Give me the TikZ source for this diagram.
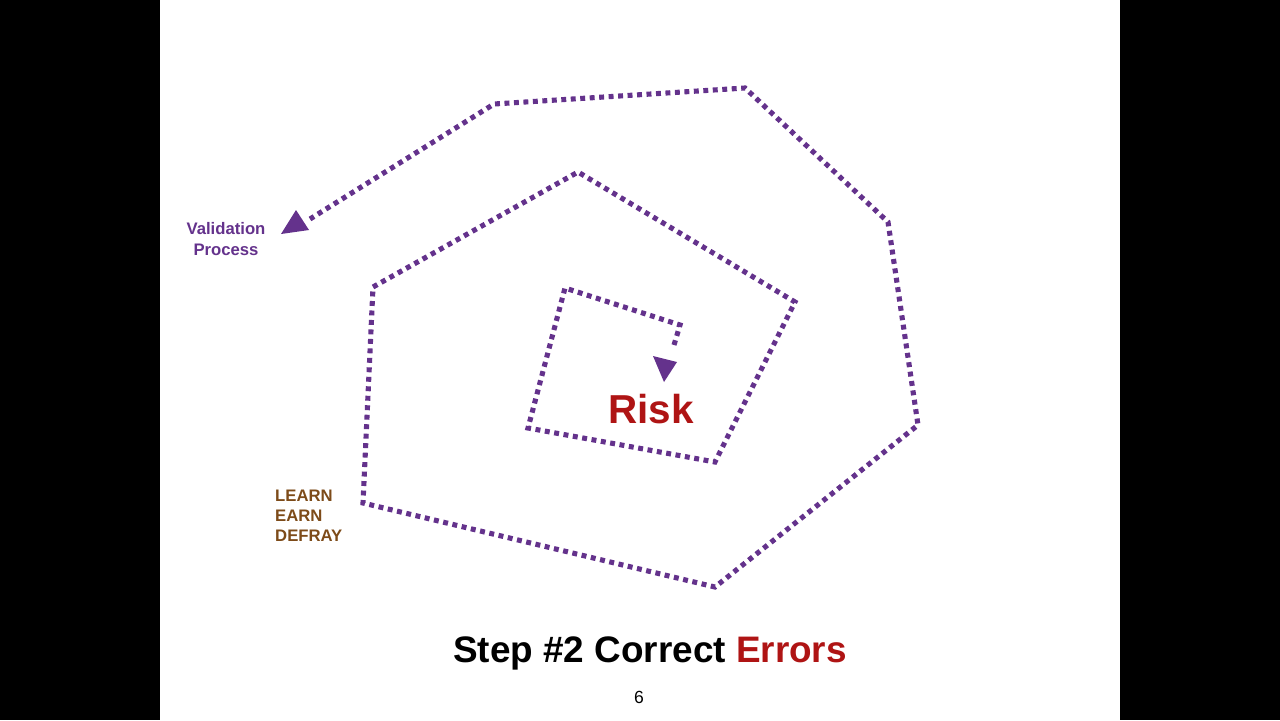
\documentclass[tikz,border=0pt]{standalone}
\usepackage{fontspec}
\setmainfont{Liberation Sans}
\usetikzlibrary{arrows.meta}
\definecolor{pur}{RGB}{100,50,140}
\definecolor{rsk}{RGB}{175,20,20}
\definecolor{brn}{RGB}{125,75,25}
\begin{document}
\begin{tikzpicture}[x=0.02cm,y=-0.02cm,
  sp/.style={pur,line width=2.9pt,dash pattern=on 2.8pt off 2.6pt},
  tip/.style={fill=pur,draw=none},
  lab/.style={font=\bfseries\fontsize{9.5}{11.5}\selectfont,align=center}]
\fill[black] (0,0) rectangle (1280,720);
\fill[white] (160,0) rectangle (1120,720);
\useasboundingbox (0,0) rectangle (1280,720);
\coordinate (a) at (674,345);
\coordinate (b) at (680,325);
\draw[sp] (a) -- (b) -- (565,288) -- (528,428) -- (715,462) -- (795,302) -- (578,172) -- (373,287) -- (363,503) -- (715,587) -- (918,425) -- (888,222) -- (745,88) -- (494,104) -- (310,219);
\coordinate (t1) at (664,382);
\fill[tip] (t1) -- (653,356) -- (677,362) -- cycle;
\coordinate (t2) at (281,234);
\fill[tip] (t2) -- (296,210) -- (309,230) -- cycle;
\node[lab,pur] (vp) at (226,239) {Validation\\Process};
\node[lab,brn,align=left,anchor=west] (le) at (269,516) {LEARN\\EARN\\DEFRAY};
\node[rsk,font=\bfseries\fontsize{23}{26}\selectfont] (risk) at (651,409) {Risk};
\node[font=\bfseries\fontsize{21}{24}\selectfont] (title) at (650,653) {Step \#2 Correct \textcolor{rsk}{Errors}};
\node[font=\fontsize{10}{12}\selectfont] (pg) at (639,697) {6};
\end{tikzpicture}
\end{document}
